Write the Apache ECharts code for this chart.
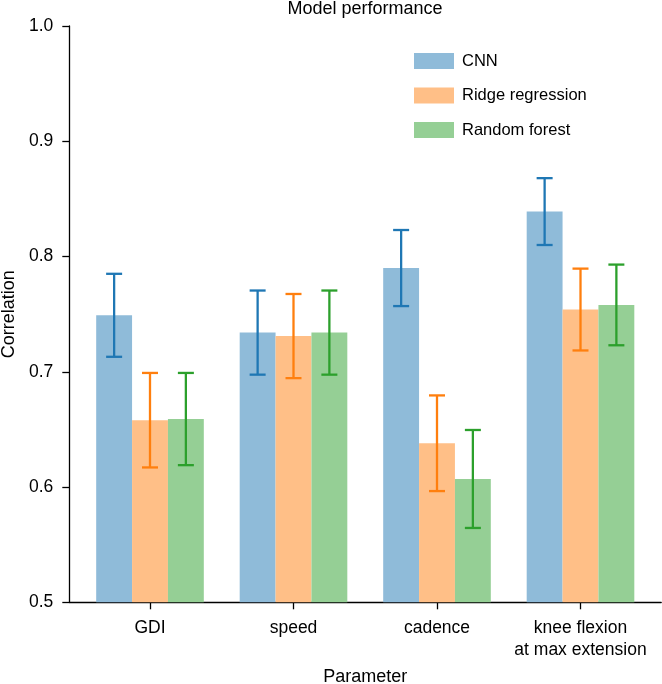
<!DOCTYPE html>
<html>
<head>
<meta charset="utf-8">
<script src="https://cdn.jsdelivr.net/npm/echarts@6/dist/echarts.min.js"></script>
<style>
html,body{margin:0;padding:0;background:#fff;}
#chart{width:662px;height:684px;}
</style>
</head>
<body>
<div id="chart"></div>
<script>
// ---- data ----
var categories = ['GDI', 'speed', 'cadence', 'knee flexion\nat max extension'];
var seriesNames = ['CNN', 'Ridge regression', 'Random forest'];
var cnnValues   = [0.749, 0.734, 0.790, 0.839];
var cnnErrors   = [0.036, 0.0365, 0.033, 0.029];
var ridgeValues = [0.658, 0.731, 0.638, 0.754];
var ridgeErrors = [0.041, 0.0365, 0.0415, 0.0355];
var rfValues    = [0.659, 0.734, 0.607, 0.758];
var rfErrors    = [0.040, 0.0365, 0.0425, 0.035];
var yTickLabels = ['0.5', '0.6', '0.7', '0.8', '0.9', '1.0'];

// ---- styling ----
var FONT = 'Liberation Sans, Arial, Helvetica, sans-serif';
var fillColors = ['#8fbbd9', '#ffbf87', '#95cf95'];
var lineColors = ['#1f77b4', '#ff7f0e', '#2ca02c'];
var valueSets = [cnnValues, ridgeValues, rfValues];
var errorSets = [cnnErrors, ridgeErrors, rfErrors];

var yMin = parseFloat(yTickLabels[0]);
var yMax = parseFloat(yTickLabels[yTickLabels.length - 1]);

var chart = echarts.init(document.getElementById('chart'), null, {renderer: 'canvas'});

var series = [];
seriesNames.forEach(function (name, s) {
  series.push({
    name: name,
    type: 'bar',
    xAxisIndex: 0,
    yAxisIndex: 0,
    data: valueSets[s],
    barGap: '0%',
    barCategoryGap: '25%',
    itemStyle: {color: fillColors[s]},
    z: 2
  });
});
seriesNames.forEach(function (name, s) {
  var data = valueSets[s].map(function (v, i) { return [i, v, errorSets[s][i]]; });
  series.push({
    name: name + ' error',
    type: 'custom',
    xAxisIndex: 0,
    yAxisIndex: 0,
    data: data,
    z: 5,
    silent: true,
    renderItem: function (params, api) {
      var idx = api.value(0), v = api.value(1), e = api.value(2);
      var band = api.size([1, 0])[0];
      var off = (s - 1) * band * 0.25;
      var top = api.coord([idx, v + e]);
      var bot = api.coord([idx, v - e]);
      var x = top[0] + off;
      var cap = 8;
      var style = {stroke: lineColors[s], lineWidth: 2.3, fill: null};
      return {
        type: 'group',
        children: [
          {type: 'line', shape: {x1: x, y1: top[1], x2: x, y2: bot[1]}, style: style},
          {type: 'line', shape: {x1: x - cap, y1: top[1], x2: x + cap, y2: top[1]}, style: style},
          {type: 'line', shape: {x1: x - cap, y1: bot[1], x2: x + cap, y2: bot[1]}, style: style}
        ]
      };
    }
  });
});

var option = {
  animation: false,
  backgroundColor: '#fff',
  title: {
    text: 'Model performance',
    left: 365,
    textAlign: 'center',
    top: 0,
    padding: 0,
    textStyle: {fontFamily: FONT, fontSize: 18, fontWeight: 'normal', color: '#000'}
  },
  legend: {
    data: seriesNames,
    orient: 'vertical',
    left: 414,
    top: 52.5,
    itemWidth: 40,
    itemHeight: 16,
    itemGap: 17.5,
    icon: 'rect',
    padding: 0,
    textStyle: {fontFamily: FONT, fontSize: 16.5, color: '#000', lineHeight: 16, padding: [0, 0, 0, 3]}
  },
  grid: [
    {left: 78.25, right: 9.75, top: 26, bottom: 81.7, containLabel: false, outerBoundsMode: 'none'},
    {left: 69.3, right: 0.8, top: 26, bottom: 81.7, containLabel: false, outerBoundsMode: 'none'}
  ],
  xAxis: [
    {
      gridIndex: 0,
      type: 'category',
      data: categories,
      axisLine: {show: false},
      axisTick: {show: true, alignWithLabel: true, length: 7, lineStyle: {color: '#000', width: 1.3}},
      axisLabel: {fontFamily: FONT, fontSize: 17.5, color: '#000', margin: 15, lineHeight: 22, interval: 0},
      splitLine: {show: false},
      name: 'Parameter',
      nameLocation: 'middle',
      nameGap: 66,
      nameTextStyle: {fontFamily: FONT, fontSize: 18, color: '#000'}
    },
    {
      gridIndex: 1,
      type: 'value',
      min: 0,
      max: 1,
      axisLine: {show: true, lineStyle: {color: '#000', width: 1.3}},
      axisTick: {show: false},
      axisLabel: {show: false},
      splitLine: {show: false}
    }
  ],
  yAxis: [
    {gridIndex: 0, type: 'value', min: yMin, max: yMax, show: false, splitLine: {show: false}},
    {
      gridIndex: 1,
      type: 'value',
      min: yMin,
      max: yMax,
      interval: 0.1,
      axisLine: {show: true, lineStyle: {color: '#000', width: 1.3}},
      axisTick: {show: true, length: 7, lineStyle: {color: '#000', width: 1.3}},
      axisLabel: {
        fontFamily: FONT, fontSize: 17.5, color: '#000', margin: 16,
        formatter: function (v) {
          var k = Math.round((v - yMin) * 10);
          return yTickLabels[k] !== undefined ? yTickLabels[k] : v.toFixed(1);
        }
      },
      splitLine: {show: false},
      name: 'Correlation',
      nameLocation: 'middle',
      nameGap: 50,
      nameTextStyle: {fontFamily: FONT, fontSize: 18, color: '#000'}
    }
  ],
  series: series
};

chart.setOption(option);
</script>
</body>
</html>
